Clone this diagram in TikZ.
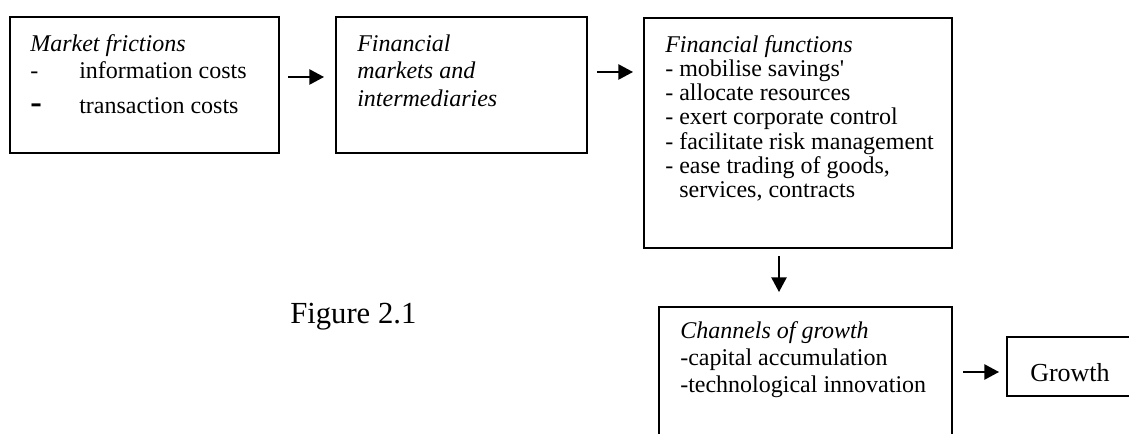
\documentclass[tikz,border=0pt]{standalone}
\usepackage{fontspec}
\setmainfont{Liberation Serif}[Ligatures=TeXOff]
\usetikzlibrary{arrows.meta,fit}
\begin{document}
\begin{tikzpicture}[x=0.75pt,y=-0.75pt,
  box/.style={draw, line width=1.5pt, inner sep=0pt},
  txt/.style={anchor=base west, inner sep=0pt, font=\fontsize{18pt}{18pt}\selectfont},
  arr/.style={-{Triangle[length=11pt,width=11.5pt]}, line width=1.1pt}]
\useasboundingbox (0,0) rectangle (1129,434);

% boxes
\node[box, fit={(10,17) (279,153)}] (b1) {};
\node[box, fit={(336,17) (587,153)}] (b2) {};
\node[box, fit={(644,18) (952,248)}] (b3) {};
\node[box, fit={(659,307) (952,460)}] (b4) {};
\node[box, fit={(1007,337) (1160,396)}] (b5) {};

% market frictions
\node[txt] (m1) at (30,52) {\itshape Market frictions};
\node[txt] (m2) at (30,79) {-};
\node[txt] (m2t) at (79,79) {information costs};
\node[txt, font=\fontsize{26pt}{26pt}\selectfont\bfseries] (m3) at (30,114) {-};
\node[txt] (m3t) at (79,114) {transaction costs};

% financial markets and intermediaries
\node[txt] (f1) at (357,52) {\itshape Financial};
\node[txt] (f2) at (357,79) {\itshape markets and};
\node[txt] (f3) at (357,107) {\itshape intermediaries};

% financial functions
\node[txt] (g1) at (665,53) {\itshape Financial functions};
\node[txt] (g2) at (665,77) {- mobilise savings'};
\node[txt] (g3) at (665,101) {- allocate resources};
\node[txt] (g4) at (665,125) {- exert corporate control};
\node[txt] (g5) at (665,150) {- facilitate risk management};
\node[txt] (g6) at (665,174) {- ease trading of goods,};
\node[txt] (g7) at (679,198) {services, contracts};

% channels of growth
\node[txt] (c1) at (680,339) {\itshape Channels of growth};
\node[txt] (c2) at (680,366) {-capital accumulation};
\node[txt] (c3) at (680,393) {-technological innovation};

% growth
\node[txt, font=\fontsize{19.5pt}{19.5pt}\selectfont] (gr) at (1030,382) {Growth};

% caption
\node[txt, font=\fontsize{23pt}{23pt}\selectfont] (cap) at (290,324) {Figure 2.1};

% connectors
\draw[arr, shorten <=6pt, shorten >=8.25pt] (b1.east |- 0,77) -- (b2.west |- 0,77);
\draw[arr, shorten <=6.75pt, shorten >=7.5pt] (b2.east |- 0,72) -- (b3.west |- 0,72);
\draw[arr, shorten <=5.25pt, shorten >=10.5pt] (b3.south -| 779,0) -- (b4.north -| 779,0);
\draw[arr, shorten <=7.5pt, shorten >=5.25pt] (b4.east |- 0,372) -- (b5.west |- 0,372);
\end{tikzpicture}
\end{document}
